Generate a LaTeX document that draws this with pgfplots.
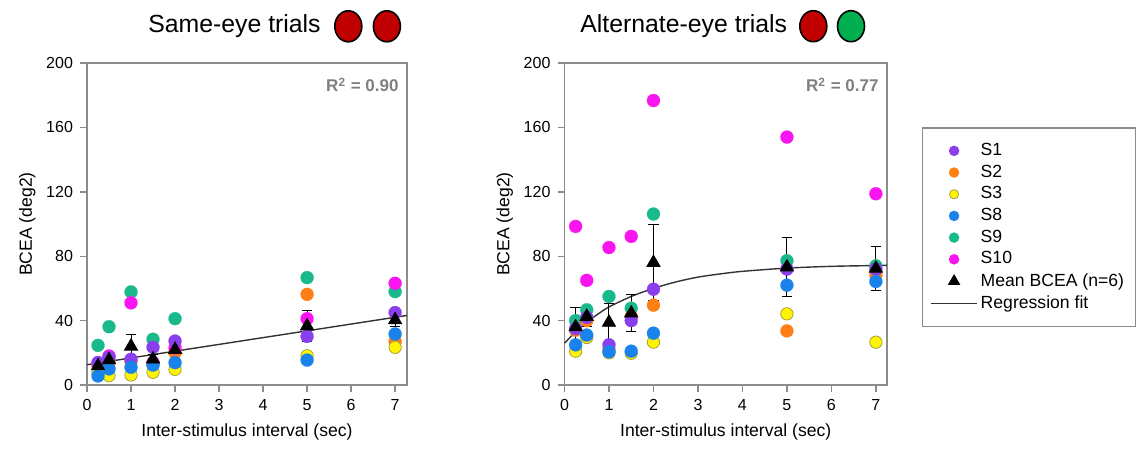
\documentclass[border=0pt]{standalone}
\usepackage{fontspec}
\setmainfont{Liberation Sans}
\usepackage{pgfplots}
\pgfplotsset{compat=1.18}

\definecolor{cS1}{RGB}{138,63,236}
\definecolor{cS2}{RGB}{255,127,20}
\definecolor{cS3}{RGB}{255,245,0}
\definecolor{cS8}{RGB}{25,130,235}
\definecolor{cS9}{RGB}{25,185,140}
\definecolor{cS10}{RGB}{250,20,240}
\definecolor{titlered}{RGB}{192,0,0}
\definecolor{titlegreen}{RGB}{0,176,80}

\pgfplotsset{
  bcea/.style={
    scale only axis, width=160pt, height=161pt,
    xmin=0, xmax=7.27, ymin=0, ymax=200,
    xtick={0,...,7}, ytick={0,40,...,200},
    axis line style={gray!90, line width=0.7pt},
    tick style={gray!90, line width=0.7pt},
    tick align=outside, tick pos=left, major tick length=3.5pt,
    ticklabel style={font=\fontsize{8}{9.6}\selectfont},
    /pgf/number format/assume math mode=true,
    xlabel={Inter-stimulus interval (sec)},
    ylabel={BCEA (deg2)}, ylabel shift=-1.5pt,
    label style={font=\fontsize{8.8}{10.5}\selectfont},
    clip=false,
  },
  subj/.style={only marks, mark=*, mark size=3.25pt,
    mark options={draw=#1, fill=#1, line width=0.1pt}, forget plot},
  yel/.style={only marks, mark=*, mark size=3.1pt,
    mark options={draw=black!40!yellow, line width=0.4pt, fill=cS3}, forget plot},
  meanpts/.style={only marks, mark=triangle*, mark size=3.8pt, black, forget plot,
    error bars/.cd, y dir=both, y explicit,
    error bar style={black, line width=0.5pt},
    error mark options={rotate=90, mark size=2.6pt, black, line width=0.5pt}},
  fit/.style={black!80, line width=0.7pt, forget plot},
}

\begin{document}
\begin{tikzpicture}
\path (0pt,0pt) rectangle (572.5pt,225pt);

% titles
\node[anchor=base west, inner sep=0, font=\fontsize{12.4}{14}\selectfont] at (74pt,208.5pt) {Same-eye trials};
\draw[black, line width=0.8pt, fill=titlered] (174.15pt,211.85pt) ellipse (6.75pt and 7.75pt);
\draw[black, line width=0.8pt, fill=titlered] (193.45pt,211.85pt) ellipse (6.75pt and 7.75pt);
\node[anchor=base west, inner sep=0, font=\fontsize{12.4}{14}\selectfont] at (290pt,208.5pt) {Alternate-eye trials};
\draw[black, line width=0.8pt, fill=titlered] (406.65pt,211.9pt) ellipse (6.75pt and 7.75pt);
\draw[black, line width=0.8pt, fill=titlegreen] (425.5pt,211.9pt) ellipse (6.75pt and 7.75pt);

% same-eye trials
\begin{axis}[bcea, at={(43.5pt,32.5pt)}, anchor=south west]
\addplot[fit] coordinates {(0,12.6) (7.27,43.2)};
\addplot[subj=cS9]  coordinates {(0.25,24.6) (0.5,36.2) (1,57.8) (1.5,28.4) (2,41.2) (5,66.7) (7,58)};
\addplot[subj=cS2]  coordinates {(0.25,12) (0.5,14) (1,14.5) (1.5,13) (2,20) (5,56.3) (7,27)};
\addplot[subj=cS10] coordinates {(0.25,13) (0.5,18) (1,51) (1.5,14) (2,23) (5,41.2) (7,63.2)};
\addplot[subj=cS1]  coordinates {(0.25,14) (0.5,17) (1,16) (1.5,23.4) (2,27.3) (5,30.2) (7,45)};
\addplot[yel]       coordinates {(0.25,8) (0.5,5.8) (1,6.2) (1.5,7.9) (2,9.7) (5,18.2) (7,23.4)};
\addplot[subj=cS8]  coordinates {(0.25,5.6) (0.5,10) (1,11) (1.5,12.4) (2,13.9) (5,15.5) (7,31.7)};
\addplot[meanpts] coordinates {
  (0.25,11.8) +- (0,3)
  (0.5,15.5) +- (0,3)
  (1,24) +- (0,7.6)
  (1.5,16) +- (0,3)
  (2,22) +- (0,4)
  (5,36.6) +- (0,9.4)
  (7,40.4) +- (0,4)
};
\node[anchor=north east, inner sep=0, text=gray, font=\bfseries\fontsize{8.5}{10}\selectfont]
  at (rel axis cs:0.975,0.955) {R\textsuperscript{2} = 0.90};
\end{axis}

% alternate-eye trials
\begin{axis}[bcea, at={(282.25pt,32.5pt)}, anchor=south west, width=161.25pt, xmax=7.25,
  legend style={at={(1.1085,0.49)}, anchor=west, draw=gray!90, line width=0.6pt,
    fill=white, font=\fontsize{8.8}{10.5}\selectfont, row sep=0pt,
    inner xsep=4pt, inner ysep=6pt,
    nodes={inner sep=1.6pt}},
  legend cell align=left,
  legend image code/.code={\draw[mark repeat=2,mark phase=2,#1] plot coordinates {(0cm,0cm) (0.4cm,0cm) (0.8cm,0cm)};},
]
\addplot[fit, smooth] coordinates {
  (0,26) (0.25,33) (0.5,39) (0.75,44) (1,48.5) (1.5,55) (2,60) (2.5,64)
  (3,67) (3.5,69) (4,70.6) (5,72.6) (6,73.7) (7,74.2) (7.25,74.3)
};
\addplot[subj=cS10] coordinates {(0.25,98.5) (0.5,65) (1,85.4) (1.5,92.3) (2,176.7) (5,154) (7,118.8)};
\addplot[subj=cS9]  coordinates {(0.25,40) (0.5,46.7) (1,55) (1.5,47.7) (2,106.2) (5,77.2) (7,74)};
\addplot[subj=cS2]  coordinates {(0.25,34) (0.5,40) (1,22) (1.5,42.5) (2,49.6) (5,33.6) (7,68.4)};
\addplot[subj=cS1]  coordinates {(0.25,35) (0.5,42) (1,25) (1.5,40) (2,59.5) (5,72) (7,72)};
\addplot[yel]       coordinates {(0.25,21) (0.5,29.5) (1,20) (1.5,19.7) (2,26.6) (5,44.2) (7,26.6)};
\addplot[subj=cS8]  coordinates {(0.25,24.9) (0.5,31) (1,20.7) (1.5,21) (2,32.2) (5,62) (7,64.3)};
\addplot[meanpts] coordinates {
  (0.25,36) +- (0,12)
  (0.5,42.5) +- (0,6)
  (1,38.8) +- (0,12)
  (1.5,44.6) +- (0,11.5)
  (2,76) +- (0,23.5)
  (5,73.2) +- (0,18.5)
  (7,72.4) +- (0,13.7)
};
\node[anchor=north east, inner sep=0, text=gray, font=\bfseries\fontsize{8.5}{10}\selectfont]
  at (rel axis cs:0.975,0.955) {R\textsuperscript{2} = 0.77};

\addlegendimage{only marks, mark=*, mark size=2.3pt, mark options={draw=cS1, fill=cS1}}
\addlegendentry{S1}
\addlegendimage{only marks, mark=*, mark size=2.3pt, mark options={draw=cS2, fill=cS2}}
\addlegendentry{S2}
\addlegendimage{only marks, mark=*, mark size=2.3pt, mark options={draw=black!40!yellow, line width=0.4pt, fill=cS3}}
\addlegendentry{S3}
\addlegendimage{only marks, mark=*, mark size=2.3pt, mark options={draw=cS8, fill=cS8}}
\addlegendentry{S8}
\addlegendimage{only marks, mark=*, mark size=2.3pt, mark options={draw=cS9, fill=cS9}}
\addlegendentry{S9}
\addlegendimage{only marks, mark=*, mark size=2.3pt, mark options={draw=cS10, fill=cS10}}
\addlegendentry{S10}
\addlegendimage{only marks, mark=triangle*, mark size=3pt, black}
\addlegendentry{Mean BCEA (n=6)}
\addlegendimage{black!80, line width=0.7pt}
\addlegendentry{Regression fit}
\end{axis}
\end{tikzpicture}
\end{document}
